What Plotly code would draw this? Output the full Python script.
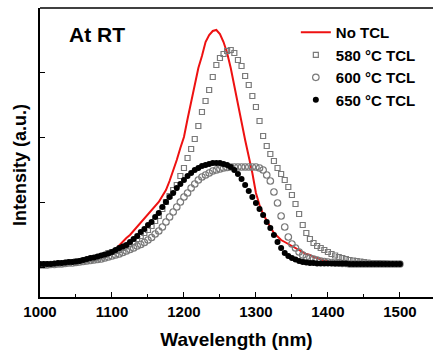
import plotly.graph_objects as go

# Wavelength grid (nm), 5 nm step
wavelength = list(range(1000, 1505, 5))

# Intensity (a.u.)
no_tcl = [30, 30, 30, 30, 35, 35, 40, 40, 45, 45,
          50, 50, 60, 70, 75, 80, 90, 100, 110, 125,
          140, 180, 220, 250, 290, 320, 360, 400, 440, 480,
          520, 560, 600, 650, 710, 770, 860, 960, 1070, 1190,
          1300, 1480, 1650, 1830, 1990, 2110, 2250, 2320, 2360, 2370,
          2330, 2250, 2140, 1990, 1820, 1630, 1450, 1270, 1110, 940,
          740, 620, 530, 460, 400, 340, 300, 270, 250, 230,
          210, 190, 170, 150, 130, 120, 100, 90, 75, 65,
          55, 50, 40, 35, 30, 30, 30, 30, 30, 30,
          30, 30, 30, 30, 30, 30, 30, 30, 30, 30, 30]

tcl_580 = [20, 20, 25, 25, 30, 30, 35, 40, 45, 50,
           55, 60, 65, 70, 80, 90, 95, 105, 120, 140,
           150, 160, 170, 190, 210, 230, 250, 280, 310, 340,
           370, 410, 460, 510, 580, 650, 710, 770, 820, 910,
           990, 1090, 1180, 1280, 1410, 1550, 1660, 1770, 1900, 2020,
           2090, 2130, 2160, 2170, 2140, 2070, 2010, 1910, 1820, 1710,
           1600, 1460, 1310, 1210, 1130, 1060, 990, 930, 870, 800,
           720, 630, 530, 420, 340, 280, 240, 210, 190, 170,
           150, 130, 115, 100, 90, 80, 70, 65, 60, 55,
           50, 45, 40, 40, 40, 35, 35, 30, 30, 30, 30]

tcl_600 = [20, 20, 20, 25, 25, 30, 30, 35, 40, 40,
           45, 50, 55, 60, 65, 70, 75, 80, 90, 100,
           110, 120, 130, 145, 160, 175, 190, 210, 225, 245,
           270, 295, 330, 360, 400, 450, 500, 550, 600, 650,
           700, 740, 790, 830, 870, 900, 920, 940, 960, 970,
           980, 990, 995, 1000, 1000, 1000, 1000, 1000, 1000, 1000,
           1000, 990, 970, 920, 860, 750, 640, 510, 400, 300,
           230, 190, 150, 120, 100, 90, 80, 70, 60, 55,
           50, 45, 40, 40, 35, 35, 30, 30, 30, 30,
           30, 30, 30, 30, 30, 30, 30, 30, 30, 30, 30]

tcl_650 = [30, 30, 30, 30, 35, 40, 40, 45, 50, 50,
           55, 60, 70, 80, 90, 95, 105, 115, 125, 135,
           150, 170, 190, 205, 220, 250, 280, 310, 350, 380,
           420, 450, 500, 540, 600, 650, 700, 740, 790, 830,
           870, 910, 940, 970, 990, 1010, 1020, 1030, 1040, 1040,
           1040, 1030, 1020, 1000, 970, 930, 880, 820, 760, 700,
           640, 580, 520, 450, 390, 320, 250, 190, 140, 110,
           90, 75, 60, 50, 45, 40, 40, 35, 35, 35,
           35, 35, 35, 35, 35, 35, 30, 30, 30, 30,
           30, 30, 30, 30, 30, 30, 30, 30, 30, 30, 30]

series_names = ["No TCL", "580 \u00b0C TCL", "600 \u00b0C TCL", "650 \u00b0C TCL"]
x_ticks = [1000, 1100, 1200, 1300, 1400, 1500]
x_minor = [1050, 1150, 1250, 1350, 1450]
y_ticks = [0, 650, 1300, 1950]

FONT = "Arial, Liberation Sans, sans-serif"
GRAY = "#7a7a7a"

fig = go.Figure()
fig.add_trace(go.Scatter(x=wavelength, y=no_tcl, mode="lines", name=series_names[0],
                         line=dict(color="#ee1111", width=2)))
fig.add_trace(go.Scatter(x=wavelength, y=tcl_580, mode="markers", name=series_names[1],
                         marker=dict(symbol="square-open", size=5, color=GRAY,
                                     line=dict(width=1.2, color=GRAY))))
fig.add_trace(go.Scatter(x=wavelength, y=tcl_600, mode="markers", name=series_names[2],
                         marker=dict(symbol="circle-open", size=6.5, color=GRAY,
                                     line=dict(width=1.2, color=GRAY))))
fig.add_trace(go.Scatter(x=wavelength, y=tcl_650, mode="markers", name=series_names[3],
                         marker=dict(symbol="circle", size=6, color="#000000")))

fig.update_layout(
    width=433, height=354,
    margin=dict(l=40, r=0, t=8, b=57),
    plot_bgcolor="white", paper_bgcolor="white",
    font=dict(family=FONT, color="black", size=13, weight="bold"),
    showlegend=True,
    legend=dict(x=0.651, y=0.972, xanchor="left", yanchor="top",
                bgcolor="rgba(0,0,0,0)", borderwidth=0,
                font=dict(family=FONT, size=15, weight="bold"),
                tracegroupgap=0, itemwidth=30),
    xaxis=dict(range=[1000, 1546], tickvals=x_ticks, ticks="inside", ticklen=5,
               tickwidth=1.2, tickcolor="black", automargin=False,
               minor=dict(tickvals=x_minor, ticks="inside",
                          ticklen=3, tickwidth=1, tickcolor="black"),
               showline=True, linecolor="black", linewidth=1.5, mirror=False,
               showgrid=False, zeroline=False,
               tickfont=dict(family=FONT, size=15, weight="bold"),
               title=dict(text="Wavelength (nm)", standoff=14,
                          font=dict(family=FONT, size=19, weight="bold"))),
    yaxis=dict(range=[-300, 2590], tickvals=y_ticks, showticklabels=False,
               ticks="inside", ticklen=5, tickwidth=1.2, tickcolor="black",
               automargin=False,
               showline=True, linecolor="black", linewidth=1.5, mirror=False,
               showgrid=False, zeroline=False),
    shapes=[dict(type="line", xref="paper", yref="paper", x0=0, x1=1, y0=1, y1=1,
                 line=dict(color="black", width=1.5))],
    annotations=[
        dict(text="At RT", xref="paper", yref="paper", x=0.068, y=0.907,
             xanchor="left", yanchor="middle", showarrow=False,
             font=dict(family=FONT, size=21, weight="bold")),
        dict(text="Intensity (a.u.)", xref="paper", yref="paper", x=-0.052, y=0.455,
             xanchor="center", yanchor="middle", textangle=-90, showarrow=False,
             font=dict(family=FONT, size=18, weight="bold")),
    ],
)

fig.write_html("out.html", config={"displayModeBar": False},
               post_script="document.body.style.margin='0';document.body.style.overflow='hidden';")
